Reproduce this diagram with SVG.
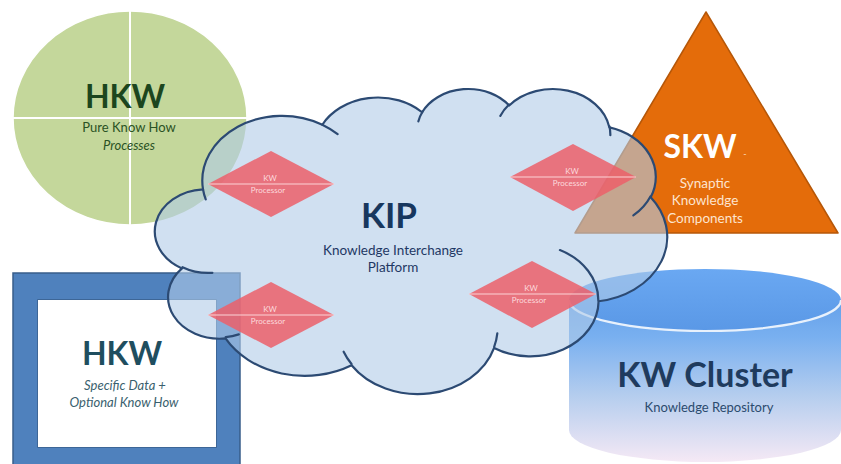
<svg xmlns="http://www.w3.org/2000/svg" width="841" height="464" viewBox="0 0 841 464">
<defs>
<linearGradient id="cylBody" x1="0" y1="270" x2="0" y2="462" gradientUnits="userSpaceOnUse">
<stop offset="0" stop-color="#5393e4"/>
<stop offset="0.35" stop-color="#79b0f0"/>
<stop offset="0.65" stop-color="#b4cdee"/>
<stop offset="1" stop-color="#f5e9f5"/>
</linearGradient>
<linearGradient id="cylTop" x1="0" y1="269" x2="0" y2="331" gradientUnits="userSpaceOnUse">
<stop offset="0" stop-color="#6aa8f2"/>
<stop offset="1" stop-color="#5a98e6"/>
</linearGradient>
<style>
text{font-family:Lato,"Open Sans","Liberation Sans",sans-serif;text-anchor:middle}
.big{font-weight:bold}
.dia{fill:#ec5f6a;fill-opacity:0.85}
.dline{stroke:#fbd3d6;stroke-width:1.2}
.dtxt{font-size:8px;fill:#fcdadd}
.cloudline{fill:none;stroke:#2c4a73;stroke-width:2.2;stroke-linecap:round}
</style>
</defs>
<rect width="841" height="464" fill="#ffffff"/>

<g id="hkw-circle">
<ellipse cx="130" cy="118" rx="117" ry="107" fill="#c4d79b" stroke="#ffffff" stroke-width="1.5"/>
<line x1="13" y1="118" x2="247" y2="118" stroke="#ffffff" stroke-width="2"/>
<line x1="130" y1="11" x2="130" y2="225" stroke="#ffffff" stroke-width="2"/>
<text x="125" y="108" class="big" font-size="32" fill="#1c461e">HKW</text>
<text x="129" y="132" font-size="13" fill="#2a5224">Pure Know How</text>
<text x="129" y="150" font-size="13" font-style="italic" fill="#2a5224">Processes</text>
</g>

<g id="hkw-frame">
<path d="M13,273 H240 V476 H13 Z M38,300 V447 H216 V300 Z" fill="#4f81bd" fill-rule="evenodd" stroke="#385d8a" stroke-width="1.5"/>
<rect x="38" y="300" width="178" height="147" fill="#ffffff"/>
<text x="122" y="365" class="big" font-size="32" fill="#1f4e5f">HKW</text>
<text x="125" y="390" font-size="13" font-style="italic" fill="#3a5f6e">Specific Data +</text>
<text x="124" y="407" font-size="13" font-style="italic" fill="#3a5f6e">Optional Know How</text>
</g>

<g id="skw-triangle">
<polygon points="706,12 838,233 575,233" fill="#e46c0a" stroke="#b65708" stroke-width="1.5" stroke-linejoin="round"/>
<text x="700" y="158" class="big" font-size="32" fill="#ffffff">SKW</text>
<text x="745" y="157" font-size="9" fill="#fcd9b8">-</text>
<text x="705" y="188" font-size="13.5" fill="#fde4cf">Synaptic</text>
<text x="705" y="205" font-size="13.5" fill="#fde4cf">Knowledge</text>
<text x="705" y="223" font-size="13.5" fill="#fde4cf">Components</text>
</g>

<g id="kw-cluster">
<path d="M569,300 V430 A136,32 0 0 0 841,430 V300 Z" fill="url(#cylBody)"/>
<ellipse cx="705" cy="300" rx="136" ry="31" fill="url(#cylTop)"/>
<path d="M569,300 A136,31 0 0 0 841,300" fill="none" stroke="#e8f1fc" stroke-width="2.2"/>
<text x="705" y="387" class="big" font-size="34" fill="#1f3b5e">KW Cluster</text>
<text x="709" y="412" font-size="13" fill="#2b4b6e">Knowledge Repository</text>
</g>

<g id="kip-cloud">
<path d="M203.04,189.46 A79.72,64.88 0 0 1 322.34,124.73 A62.96,51.31 0 0 1 422.11,112.24 A51.53,41.97 0 0 1 509.20,105.52 A57.34,46.56 0 0 1 609.38,127.38 A62.96,51.35 0 0 1 650.70,197.16 A79.98,65.09 0 0 1 598.58,301.24 A68.30,55.54 0 0 1 494.12,347.91 A79.71,65.06 0 0 1 351.57,365.22 A91.14,74.44 0 0 1 225.53,338.45 A51.47,41.78 0 0 1 181.97,268.39 A51.30,41.97 0 0 1 203.04,189.46 Z" fill="#b0cbe8" fill-opacity="0.6" stroke="#2c4a73" stroke-width="2.2" stroke-linejoin="round"/>
<path class="cloudline" d="M212.40,272.81 A51.30,41.97 0 0 1 182.49,267.18 M238.79,334.39 A51.47,41.78 0 0 1 225.71,337.09 M351.53,363.98 A79.71,65.06 0 0 1 343.64,351.68 M497.32,333.35 A79.71,65.06 0 0 1 494.17,346.82 M559.91,250.06 A68.30,55.54 0 0 1 598.30,300.44 M650.45,196.40 A62.96,51.35 0 0 1 633.34,215.30 M609.44,126.31 A57.34,46.56 0 0 1 610.34,135.23 M500.28,115.90 A57.34,46.56 0 0 1 509.04,104.51 M418.39,121.32 A51.53,41.97 0 0 1 422.63,111.51 M322.28,124.66 A79.72,64.88 0 0 1 337.63,134.18 M205.72,199.47 A79.72,64.88 0 0 1 203.05,189.47"/>
<text x="389" y="228" class="big" font-size="35" fill="#17375e">KIP</text>
<text x="393" y="255" font-size="13.5" fill="#1f3864">Knowledge Interchange</text>
<text x="393" y="272" font-size="13.5" fill="#1f3864">Platform</text>
</g>

<g id="processor-1">
<polygon class="dia" points="208,184 271,151 334,184 271,217"/>
<line class="dline" x1="208" y1="184" x2="334" y2="184"/>
<text class="dtxt" x="270" y="181">KW</text>
<text class="dtxt" x="268" y="193">Processor</text>
</g>
<g id="processor-2">
<polygon class="dia" points="510,177 573,144 636,177 573,211"/>
<line class="dline" x1="510" y1="177" x2="636" y2="177"/>
<text class="dtxt" x="572" y="174">KW</text>
<text class="dtxt" x="570" y="186">Processor</text>
</g>
<g id="processor-3">
<polygon class="dia" points="208,315 271,282 334,315 271,348"/>
<line class="dline" x1="208" y1="315" x2="334" y2="315"/>
<text class="dtxt" x="270" y="312">KW</text>
<text class="dtxt" x="268" y="324">Processor</text>
</g>
<g id="processor-4">
<polygon class="dia" points="469,294 532,261 596,294 532,328"/>
<line class="dline" x1="469" y1="294" x2="596" y2="294"/>
<text class="dtxt" x="531" y="291">KW</text>
<text class="dtxt" x="529" y="303">Processor</text>
</g>

<g id="connectors"></g>
</svg>
